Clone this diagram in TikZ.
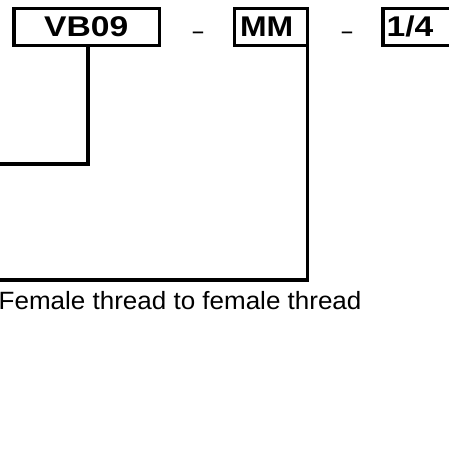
\documentclass[tikz,border=0pt]{standalone}
\usepackage{fontspec}
\setmainfont{Liberation Sans}
\usepackage{graphicx}
\begin{document}
\begin{tikzpicture}[x=1pt,y=-1pt,
  codebox/.style={draw=black, line width=3.2pt, rectangle, inner sep=0pt, outer sep=0pt},
  codetext/.style={inner sep=0pt, anchor=base, font=\fontsize{28.5}{32}\selectfont\bfseries},
  sep/.style={inner sep=0pt, anchor=base, font=\fontsize{26}{30}\selectfont},
  wire/.style={draw=black, line width=3.2pt},
  desc/.style={inner sep=0pt, anchor=base west, font=\fontsize{25}{30}\selectfont}]
\useasboundingbox (0,0) rectangle (448,472);
% boxes
\node[codebox, minimum width=145.5pt, minimum height=37.2pt] (vb) at (86.75,26.9) {};
\node[codebox, minimum width=73pt, minimum height=37.2pt] (mm) at (271,26.9) {};
\node[codebox, minimum width=87pt, minimum height=37.2pt] (qt) at (426.5,26.9) {};
% box texts
\node[codetext] (vbt) at (86.3,36.8) {\scalebox{1.18}[1]{VB09}};
\node[codetext] (mmt) at (266.7,36.8) {\scalebox{1.12}[1]{MM}};
\node[codetext] (qtt) at (410,36.8) {\scalebox{1.18}[1]{1/4}};
% separators
\node[sep] (s1) at (198,39.2) {\scalebox{0.72}[1]{–}};
\node[sep] (s2) at (347,39.2) {\scalebox{0.72}[1]{–}};
% connectors
\coordinate (c1) at (-5,164);
\coordinate (c2) at (-5,280);
\draw[wire] ([xshift=1.25pt]vb.south) |- (c1);
\draw[wire] (mm.south east) |- (c2);
% description
\node[desc] (d2) at (-1.5,309.5) {\scalebox{1.04}[1]{Female thread to female thread}};
\end{tikzpicture}
\end{document}
